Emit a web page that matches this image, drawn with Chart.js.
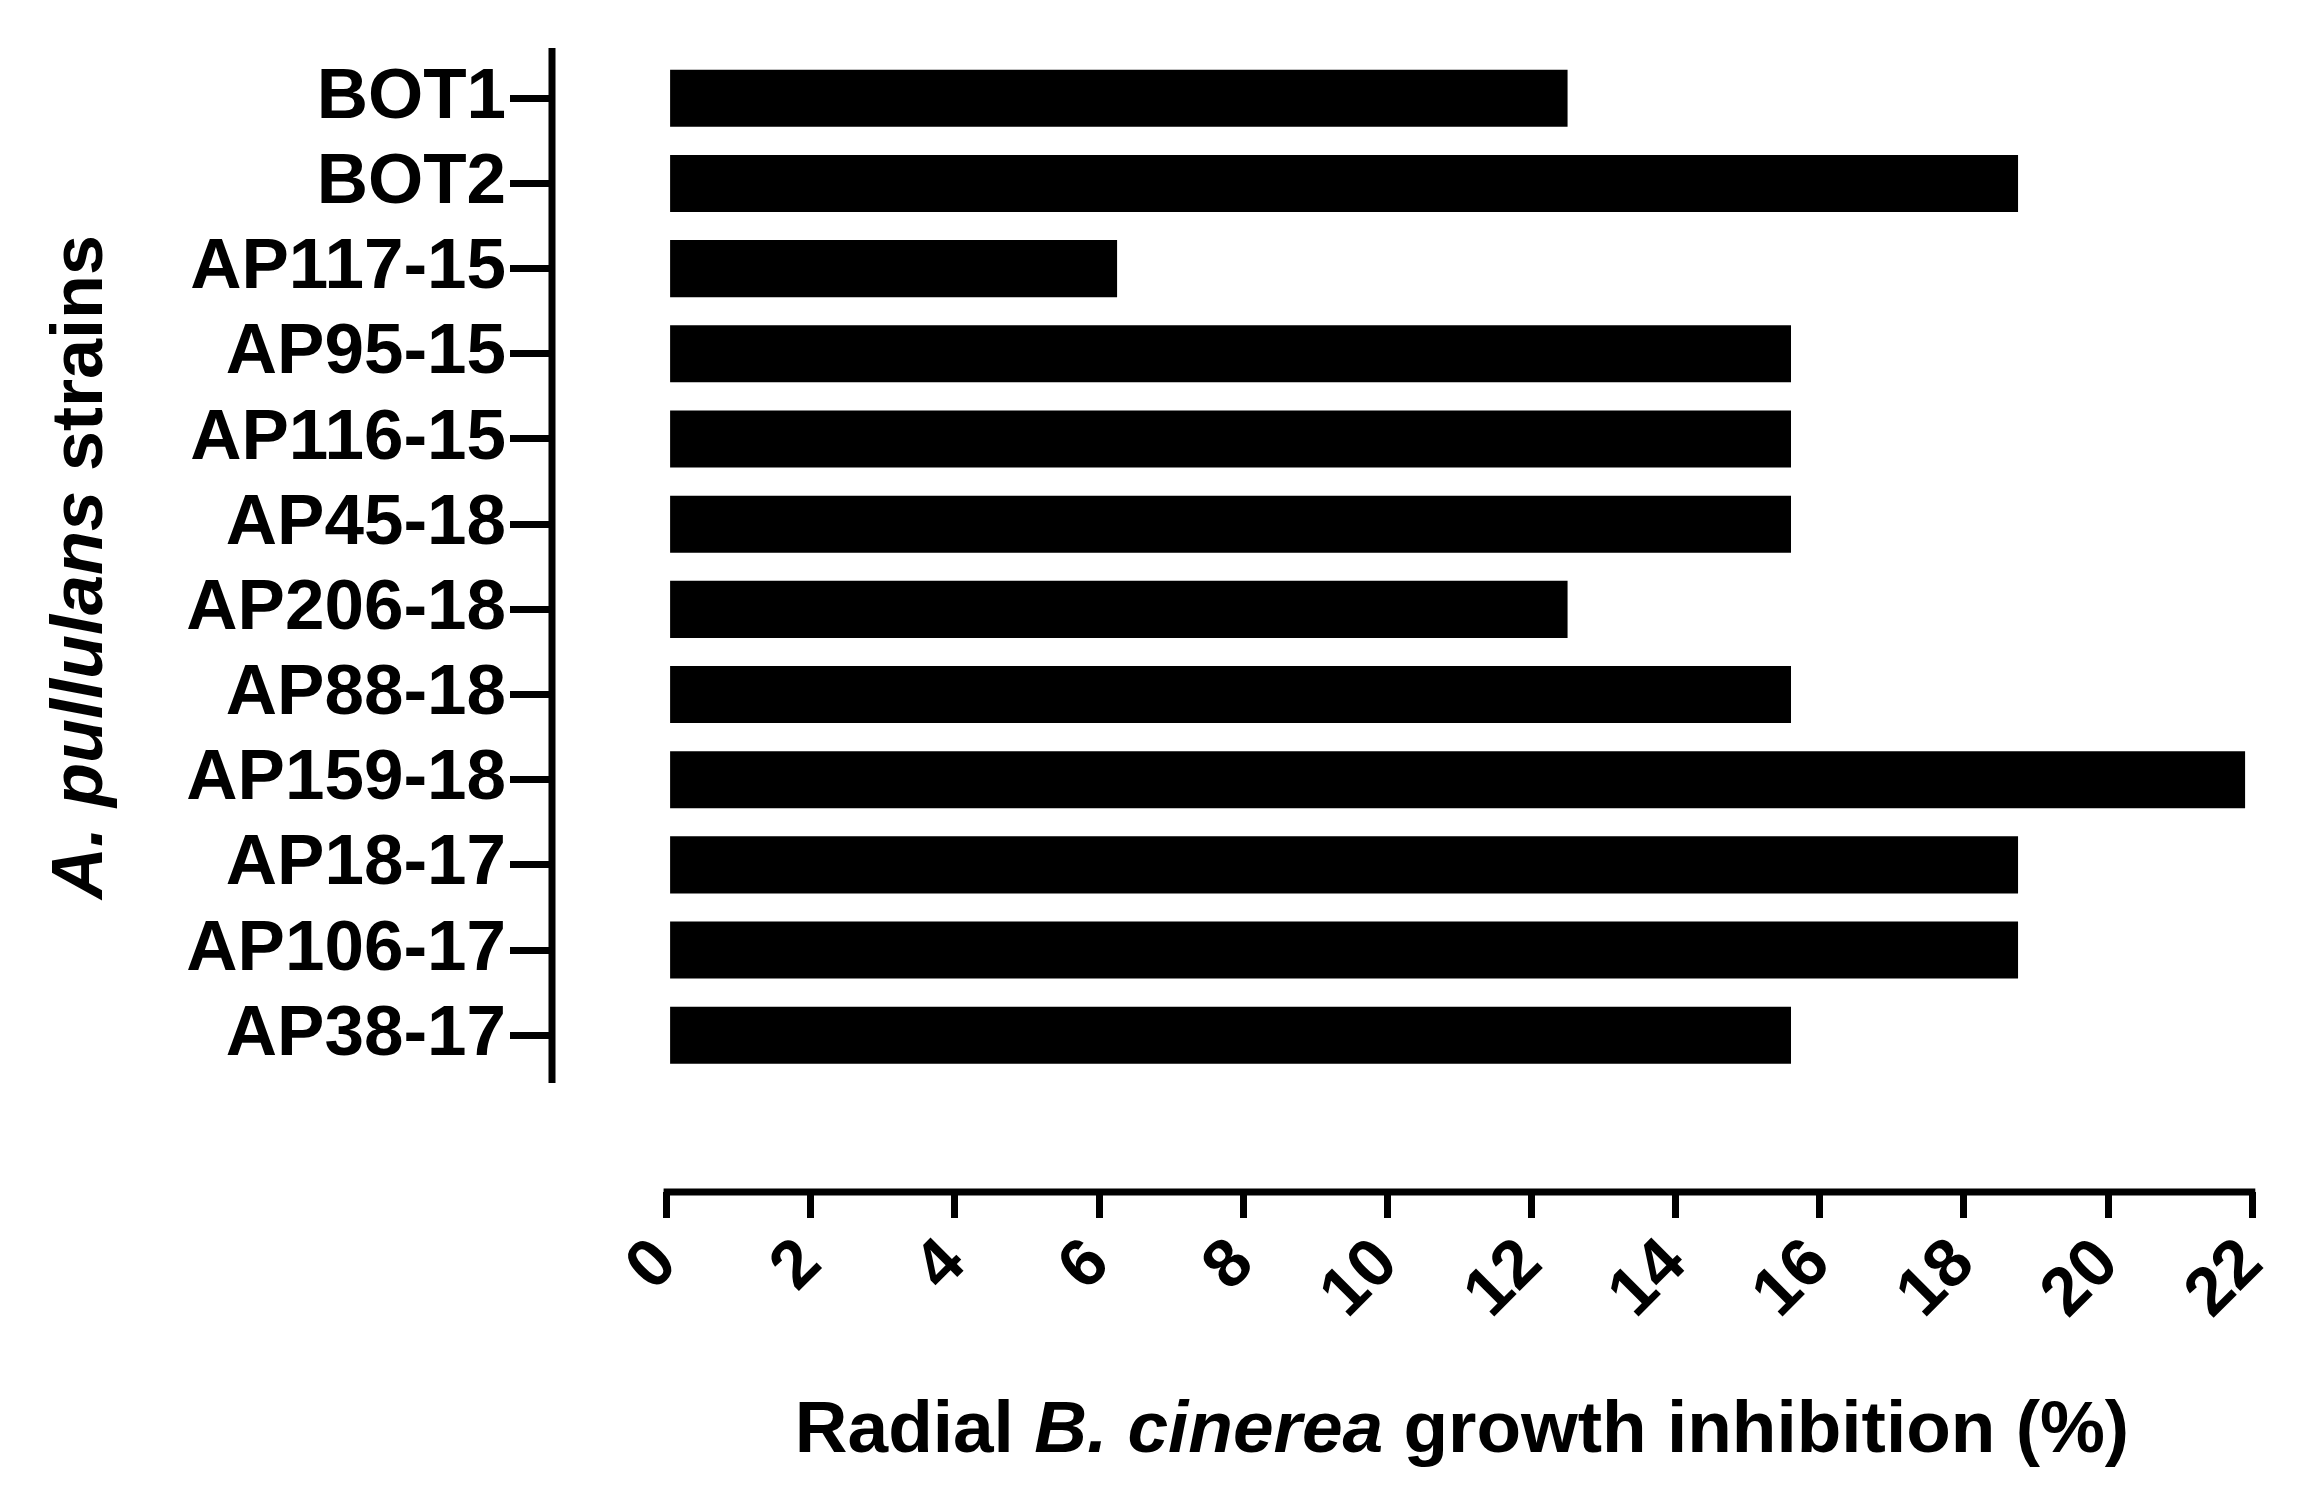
<!DOCTYPE html>
<html>
  <head>
    <script src="https://cdn.jsdelivr.net/npm/chart.js@4.4.1/dist/chart.umd.min.js"></script>
    <style>
      html, body { margin: 0; padding: 0; background: #fff; }
      #wrap { width: 2316px; height: 1504px; }
    </style>
  </head>
  <body>
    <div id="wrap"><canvas id="barChart"></canvas></div>
    <script>
      // strains, top to bottom
      const strains = ['BOT1', 'BOT2', 'AP117-15', 'AP95-15', 'AP116-15', 'AP45-18',
                       'AP206-18', 'AP88-18', 'AP159-18', 'AP18-17', 'AP106-17', 'AP38-17'];
      const inhibition = [12.5, 18.75, 6.25, 15.6, 15.6, 15.6, 12.5, 15.6, 21.9, 18.75, 18.75, 15.6];
      const xTicks = [0, 2, 4, 6, 8, 10, 12, 14, 16, 18, 20, 22];

      const FONT = '"Liberation Sans", Arial, sans-serif';

      // axis lines + titles (the axes are drawn apart from each other, like the original)
      const axesPlugin = {
        id: 'axes',
        afterDraw(chart) {
          const ctx = chart.ctx, x = chart.scales.x, y = chart.scales.y;
          ctx.save();
          ctx.strokeStyle = '#000';
          ctx.lineWidth = 7;
          ctx.beginPath();
          ctx.moveTo(x.left, y.top);
          ctx.lineTo(x.left, y.getPixelForValue(strains.length - 0.44));
          ctx.moveTo(x.getPixelForValue(0) - 3, y.bottom);
          ctx.lineTo(x.getPixelForValue(22) + 3, y.bottom);
          ctx.stroke();

          // x title with italic species name
          const parts = [['bold ', 'Radial '], ['bold italic ', 'B. cinerea'], ['bold ', ' growth inhibition (%)']];
          ctx.fillStyle = '#000';
          ctx.textBaseline = 'middle';
          ctx.textAlign = 'left';
          let total = 0;
          parts.forEach(p => { ctx.font = p[0] + '73px ' + FONT; total += ctx.measureText(p[1]).width; });
          let cx = 1462 - total / 2;
          parts.forEach(p => {
            ctx.font = p[0] + '73px ' + FONT;
            ctx.fillText(p[1], cx, 1432);
            cx += ctx.measureText(p[1]).width;
          });

          // y title
          ctx.translate(82, 567);
          ctx.rotate(-Math.PI / 2);
          const yparts = [['bold italic ', 'A. pullulans'], ['bold ', ' strains']];
          total = 0;
          yparts.forEach(p => { ctx.font = p[0] + '72px ' + FONT; total += ctx.measureText(p[1]).width; });
          cx = -total / 2;
          yparts.forEach(p => {
            ctx.font = p[0] + '72px ' + FONT;
            ctx.fillText(p[1], cx, 0);
            cx += ctx.measureText(p[1]).width;
          });
          ctx.restore();
        }
      };

      new Chart(document.getElementById('barChart'), {
        type: 'bar',
        data: {
          datasets: [{
            data: inhibition.map((v, i) => ({ x: v, y: i })),
            backgroundColor: '#000',
            barPercentage: 0.67,
            categoryPercentage: 1
          }]
        },
        options: {
          indexAxis: 'y',
          responsive: true,
          maintainAspectRatio: false,
          animation: false,
          layout: { padding: { top: 48, right: 59, left: 0, bottom: 0 } },
          plugins: { legend: { display: false }, tooltip: { enabled: false } },
          scales: {
            x: {
              type: 'linear',
              min: -1.59,
              max: 22,
              border: { display: false },
              grid: {
                drawOnChartArea: false, drawTicks: true, tickLength: 26, lineWidth: 7,
                color: c => (c.tick && c.tick.value >= 0 ? '#000' : 'rgba(0,0,0,0)')
              },
              afterBuildTicks: s => { s.ticks = xTicks.map(v => ({ value: v })); },
              afterFit: s => { s.height = 312; },
              ticks: {
                minRotation: 45, maxRotation: 45, padding: 6,
                color: '#000', font: { family: FONT, size: 68, weight: 'bold' }
              }
            },
            y: {
              type: 'linear',
              reverse: true,
              offset: false,
              min: -0.59,
              max: 12.84,
              border: { display: false },
              grid: { offset: false, drawOnChartArea: false, drawTicks: true, tickLength: 42, lineWidth: 7, color: '#000' },
              afterBuildTicks: s => { s.ticks = strains.map((_, i) => ({ value: i })); },
              afterFit: s => { s.width = 552; },
              ticks: {
                padding: 4,
                color: '#000',
                font: { family: FONT, size: 71, weight: 'bold' },
                callback: v => strains[v]
              }
            }
          }
        },
        plugins: [axesPlugin]
      });
    </script>
  </body>
</html>
